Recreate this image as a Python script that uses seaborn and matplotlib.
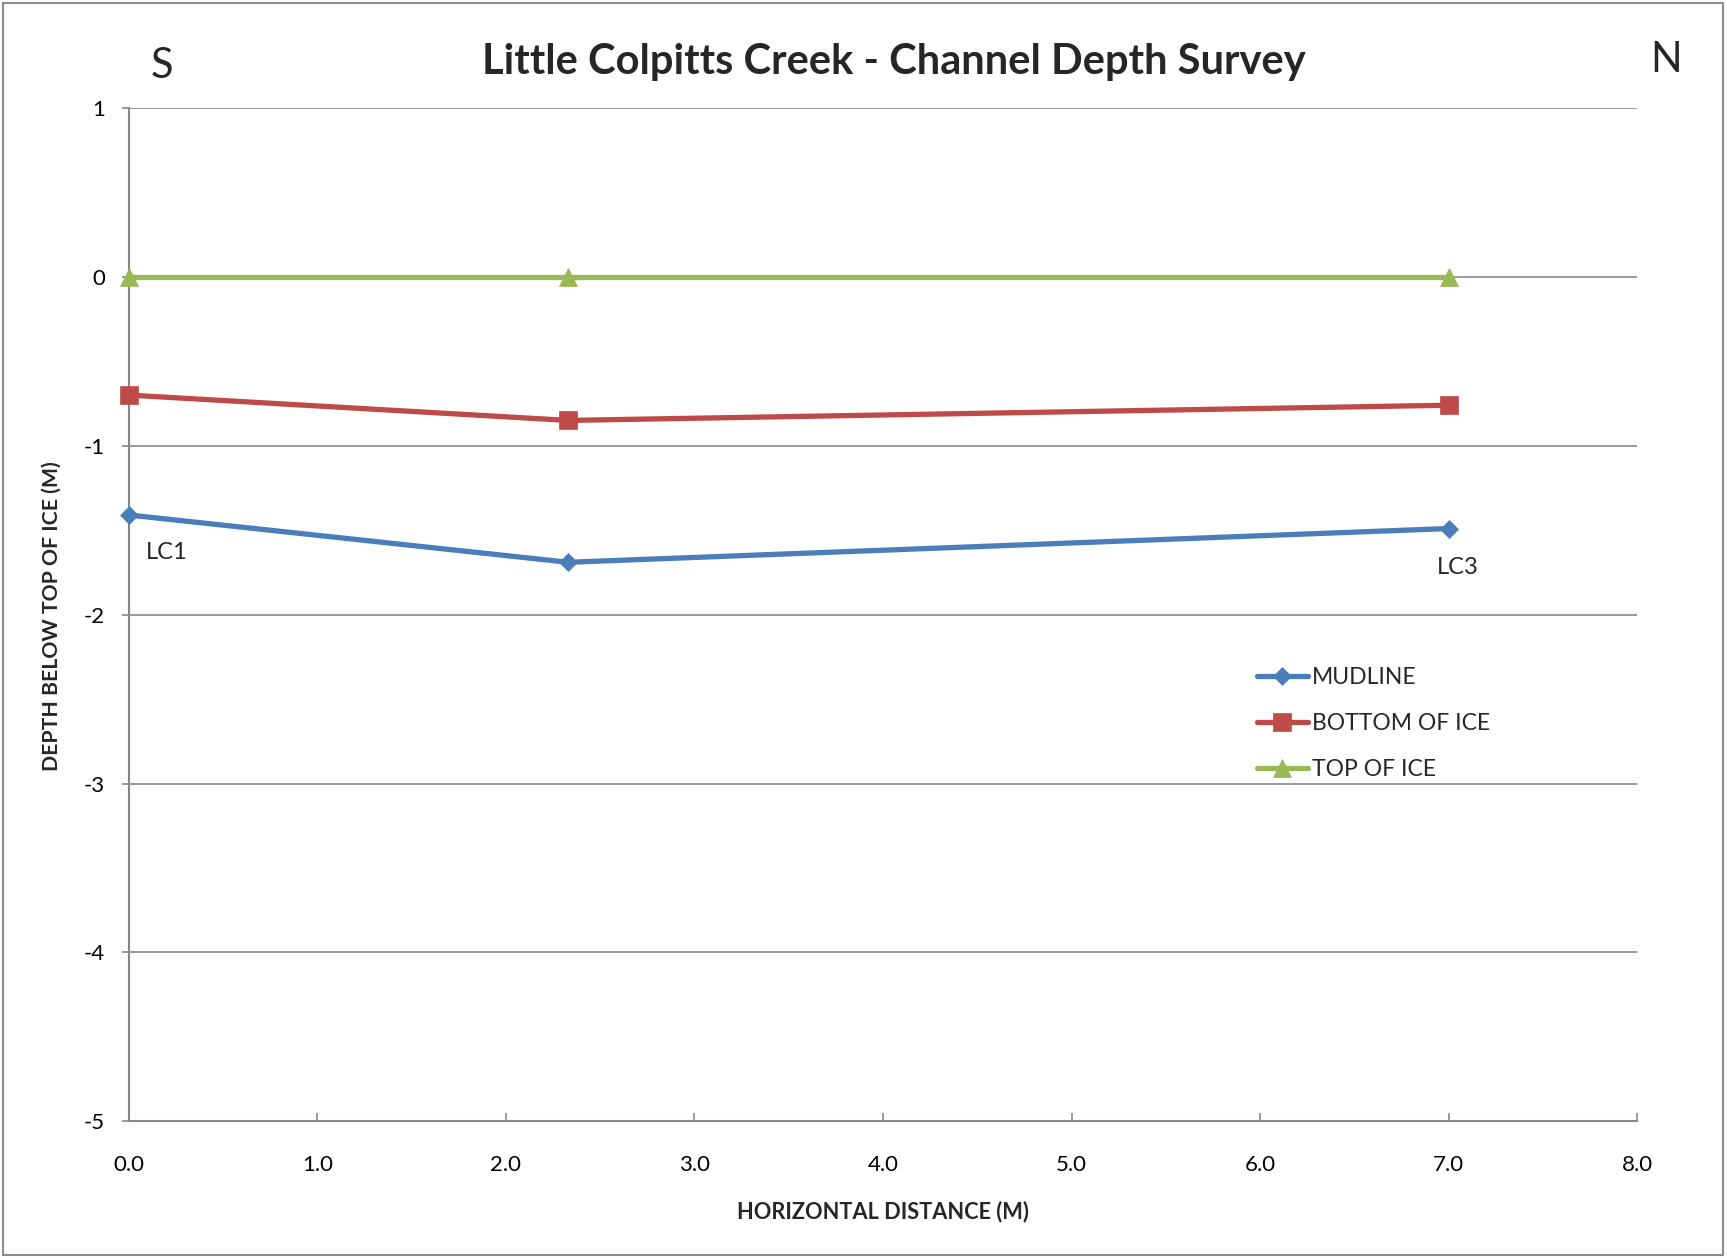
import pandas as pd
import seaborn as sns
import matplotlib.pyplot as plt
from matplotlib.patches import Rectangle

# survey points along the channel (m)
distance = [0.0, 2.33, 7.0]
mudline = [-1.41, -1.69, -1.49]
bottom_of_ice = [-0.70, -0.85, -0.76]
top_of_ice = [0.0, 0.0, 0.0]

series_names = ["MUDLINE", "BOTTOM OF ICE", "TOP OF ICE"]
colors = ["#4A7EBB", "#BE4B48", "#98B954"]
x_ticks = [0.0, 1.0, 2.0, 3.0, 4.0, 5.0, 6.0, 7.0, 8.0]
y_ticks = [1, 0, -1, -2, -3, -4, -5]

df = pd.DataFrame({
    "distance": distance * 3,
    "depth": mudline + bottom_of_ice + top_of_ice,
    "series": [s for s in series_names for _ in distance],
})

sns.set_theme(style="white")
plt.rcParams["font.family"] = ["Lato", "DejaVu Sans"]
plt.rcParams["axes.unicode_minus"] = False

fig = plt.figure(figsize=(17.27, 12.58), dpi=100)
ax = fig.add_axes([0.0746, 0.1086, 0.8734, 0.8056])

marker_kw = {
    "MUDLINE": dict(marker="D", markersize=9.5),
    "BOTTOM OF ICE": dict(marker="s", markersize=12.5),
    "TOP OF ICE": dict(marker="^", markersize=13),
}
for name, col in zip(series_names, colors):
    sns.lineplot(data=df[df["series"] == name], x="distance", y="depth",
                 color=col, linewidth=3.8, markeredgecolor=col,
                 markeredgewidth=0.5, label=name, ax=ax, zorder=3,
                 clip_on=False, **marker_kw[name])

ax.set_xlim(0, 8)
ax.set_ylim(-5, 1)
ax.set_xticks(x_ticks)
ax.set_xticklabels([f"{v:.1f}" for v in x_ticks])
ax.set_yticks(y_ticks)
ax.set_yticklabels([str(v) for v in y_ticks])

grid_col = "#878787"
ax.yaxis.grid(True, color=grid_col, linewidth=1.2)
ax.xaxis.grid(False)
for side in ["top", "right"]:
    ax.spines[side].set_visible(False)
for side in ["left", "bottom"]:
    ax.spines[side].set_color(grid_col)
    ax.spines[side].set_linewidth(1.5)

ax.tick_params(axis="x", direction="in", length=6, width=1.2, color=grid_col,
               pad=24, labelsize=16, labelcolor="black", bottom=True)
ax.tick_params(axis="y", direction="out", length=5, width=1.2, color=grid_col,
               pad=12, labelsize=16, labelcolor="black", left=True)

ax.set_xlabel("")
ax.set_ylabel("")
fig.text(0.511, 0.037, "HORIZONTAL DISTANCE (M)", ha="center", va="center",
         fontsize=15.7, fontweight="bold")
fig.text(0.030, 0.5105, "DEPTH BELOW TOP OF ICE (M)", ha="center", va="center",
         rotation=90, fontsize=15.3, fontweight="bold")

fig.text(0.5175, 0.941, "Little Colpitts Creek - Channel Depth Survey",
         ha="center", va="baseline", fontsize=30, fontweight="bold")
fig.text(0.0938, 0.938, "S", ha="center", va="baseline", fontsize=30)
fig.text(0.965, 0.943, "N", ha="center", va="baseline", fontsize=30)

ax.text(0.093, -1.63, "LC1", ha="left", va="center", fontsize=17)
ax.text(7.05, -1.72, "LC3", ha="center", va="center", fontsize=17)

ax.legend(loc="center left", bbox_to_anchor=(0.728, 0.4248),
          bbox_transform=fig.transFigure, frameon=False, fontsize=16.5,
          handlelength=2.2, handletextpad=0.2, labelspacing=1.1,
          borderpad=0, borderaxespad=0)

fig.patches.append(Rectangle((0.0015, 0.002), 0.996, 0.996,
                             transform=fig.transFigure, fill=False,
                             edgecolor="#8C8C8C", linewidth=1.5))

fig.savefig("out.png", dpi=100)
